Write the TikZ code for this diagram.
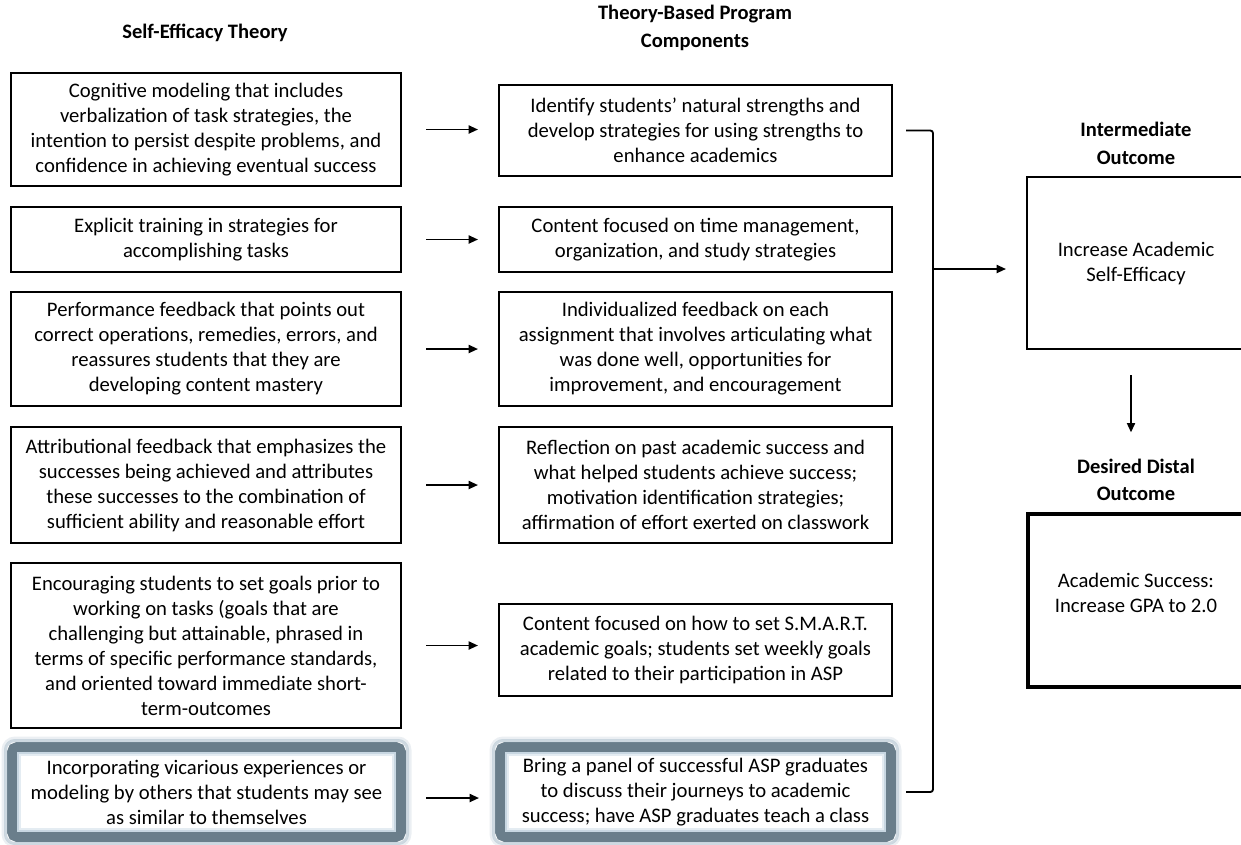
\documentclass[tikz,border=0pt]{standalone}
\usepackage{fontspec}
\setmainfont{Carlito}
\usetikzlibrary{arrows.meta}
\definecolor{hlgray}{RGB}{106,126,139}
\definecolor{hlglow}{RGB}{190,205,216}
\definecolor{hlinner}{RGB}{200,215,226}
\definecolor{hlinnerb}{RGB}{228,236,242}
\begin{document}
\begin{tikzpicture}[x=0.75pt,y=-0.75pt,
  every node/.style={font=\fontsize{15.5}{18.75}\selectfont, align=center, inner sep=0pt, outer sep=0pt},
  lbox/.style={draw=black, line width=1.4pt, minimum width=292.5pt},
  mbox/.style={draw=black, line width=1.4pt, minimum width=294.75pt},
  hlbox/.style={draw=hlgray, line width=7.5pt, rounded corners=4pt, fill=white, minimum height=67.5pt},
  head/.style={font=\fontsize{15.4}{20.5}\selectfont\bfseries},
  conn/.style={line width=1.4pt, -{Triangle[length=7pt,width=6pt]}},
  rowarrow/.style={conn, shorten <=18.75pt, shorten >=15.75pt},
  brk/.style={line width=1.4pt, rounded corners=2pt}
]
\useasboundingbox (0,0) rectangle (1241,844);
\fill[white] (0,0) rectangle (1241,844);

% headers
\node[head] (h1) at (205,33) {Self-Efficacy Theory};
\node[head] (h2) at (695,28) {Theory-Based Program\\Components};
\node[head] (h3) at (1136,143.5) {Intermediate\\Outcome};
\node[head] (h4) at (1136,480) {Desired Distal\\Outcome};

% left column
\node[lbox, minimum height=84.75pt] (L1) at (206,129.5) {Cognitive modeling that includes\\verbalization of task strategies, the\\intention to persist despite problems, and\\confidence in achieving eventual success};
\node[lbox, minimum height=48.75pt] (L2) at (206,239.5) {Explicit training in strategies for\\accomplishing tasks};
\node[lbox, minimum height=85.5pt] (L3) at (206,349) {Performance feedback that points out\\correct operations, remedies, errors, and\\reassures students that they are\\developing content mastery};
\node[lbox, minimum height=87pt] (L4) at (206,485) {Attributional feedback that emphasizes the\\successes being achieved and attributes\\these successes to the combination of\\sufficient ability and reasonable effort};
\node[lbox, minimum height=123.75pt] (L5) at (206,645.5) {Encouraging students to set goals prior to\\working on tasks (goals that are\\challenging but attainable, phrased in\\terms of specific performance standards,\\and oriented toward immediate short-\\term-outcomes};
\node[hlbox, minimum width=291.75pt] (L6) at (206.5,792) {Incorporating vicarious experiences or\\modeling by others that students may see\\as similar to themselves};

% middle column
\node[mbox, minimum height=68.25pt] (M1) at (695.5,130.5) {Identify students’ natural strengths and\\develop strategies for using strengths to\\enhance academics};
\node[mbox, minimum height=48.75pt] (M2) at (695.5,239.5) {Content focused on time management,\\organization, and study strategies};
\node[mbox, minimum height=85.5pt] (M3) at (695.5,349) {Individualized feedback on each\\assignment that involves articulating what\\was done well, opportunities for\\improvement, and encouragement};
\node[mbox, minimum height=87pt] (M4) at (695.5,485) {Reflection on past academic success and\\what helped students achieve success;\\motivation identification strategies;\\affirmation of effort exerted on classwork};
\node[mbox, minimum height=69pt] (M5) at (695.5,650) {Content focused on how to set S.M.A.R.T.\\academic goals; students set weekly goals\\related to their participation in ASP};
\node[hlbox, minimum width=293.25pt] (M6) at (695.5,792) {Bring a panel of successful ASP graduates\\to discuss their journeys to academic\\success; have ASP graduates teach a class};

% glow on highlighted boxes
\foreach \n in {L6,M6}{
  \draw[hlglow, line width=2.25pt, opacity=0.75, rounded corners=7pt]
    ([shift={(-6.5,-6.5)}]\n.north west) rectangle ([shift={(6.5,6.5)}]\n.south east);
  \draw[hlglow, line width=2.25pt, opacity=0.3, rounded corners=9pt]
    ([shift={(-9,-9)}]\n.north west) rectangle ([shift={(9,9)}]\n.south east);
  \draw[hlinner, line width=1.5pt]
    ([shift={(6,6)}]\n.north west) rectangle ([shift={(-6,-6)}]\n.south east);
  \draw[hlinnerb, line width=1.5pt]
    ([shift={(8,8)}]\n.north west) rectangle ([shift={(-8,-8)}]\n.south east);
}

% right column
\node[draw=black, line width=1.4pt, minimum width=163.5pt, minimum height=129pt] (R1) at (1136,263) {Increase Academic\\Self-Efficacy};
\node[draw=black, line width=3pt, minimum width=162.75pt, minimum height=129.75pt] (R2) at (1136.5,600.5) {};
\node (R2t) at (1136,592.5) {Academic Success:\\Increase GPA to 2.0};

% row arrows
\foreach \i in {1,...,5}{
  \draw[rowarrow] (L\i.east) -- (L\i.east -| M\i.west);
}
\draw[rowarrow] ([shift={(0,6)}]L6.east) -- ([shift={(0,6)}]L6.east -| M6.west);

% bracket
\coordinate (bx) at (933,0);
\draw[brk, shorten <=10.5pt, shorten >=11.25pt] (M1.east) -- (M1.east -| bx) -- (M6.east -| bx) -- (M6.east);
\coordinate (bj) at (933,269);
\draw[conn, shorten >=15.75pt] (bj) -- (bj -| R1.west);

% down arrow
\coordinate (ax) at (1131,0);
\draw[conn, shorten <=19.5pt, shorten >=20pt] (R1.south -| ax) -- (h4.north -| ax);
\end{tikzpicture}
\end{document}
